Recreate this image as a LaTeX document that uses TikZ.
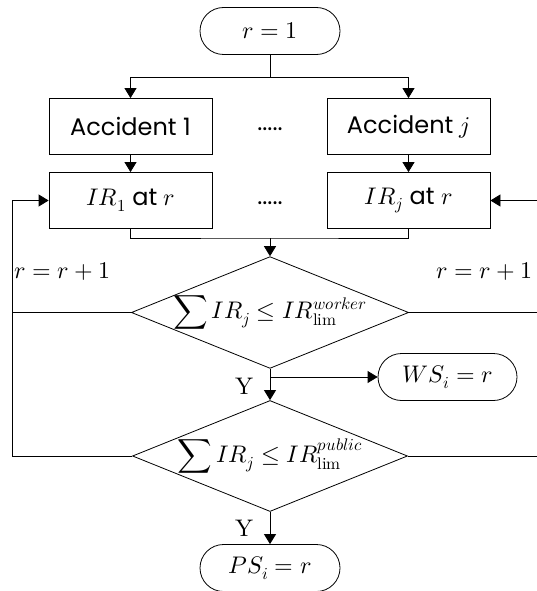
\documentclass[tikz,border=0pt]{standalone}
\usepackage{fontspec}
\usepackage{unicode-math}
\setmainfont{Poppins}
\setmathfont{Latin Modern Math}
\usetikzlibrary{shapes.geometric,shapes.misc,arrows.meta}

\begin{document}
\begin{tikzpicture}[x=1pt,y=-1pt,line width=0.8pt,
    arr/.style={-{Triangle[length=10pt,width=12pt]}},
    procbox/.style={draw,rectangle,minimum width=163pt,minimum height=56pt,inner sep=0pt},
    termbox/.style={draw,rounded rectangle,minimum width=140pt,minimum height=47pt,inner sep=0pt},
    decide/.style={draw,diamond,aspect=2.48,minimum width=275pt,minimum height=111pt,inner sep=0pt}]
  \tikzstyle{every node}+=[font=\fontsize{24}{28}\selectfont]
  \clip (0,0) rectangle (537,591);
  % nodes
  \node [termbox] (start) at (270,31) {$r=1$};
  \node [procbox] (acc1) at (130.5,126.5) {Accident 1};
  \node [procbox] (accj) at (408.5,126.5) {Accident $j$};
  \node (dots1) at (270,129) {.....};
  \node [procbox] (ir1) at (130.5,200.5) {$IR_1$ at $r$};
  \node [procbox] (irj) at (408.5,200.5) {$IR_j$ at $r$};
  \node (dots2) at (270,203) {.....};
  \node [decide] (dia1) at (270,312.5) {$\displaystyle\sum IR_j \leq IR_{\symup{lim}}^{worker}$};
  \node [termbox,minimum width=139pt] (ws) at (447.5,377) {$WS_i=r$};
  \node [decide] (dia2) at (270,456) {$\displaystyle\sum IR_j \leq IR_{\symup{lim}}^{public}$};
  \node [termbox] (ps) at (270,568) {$PS_i=r$};
  \node [anchor=west] (incL) at (11,272) {$r=r+1$};
  \node [anchor=east] (incR) at (536,272) {$r=r+1$};
  \node (y1) at (245,386) {$\symup{Y}$};
  \node (y2) at (245,528) {$\symup{Y}$};
  \coordinate (split) at (270,77);
  \coordinate (join) at (270,238);
  \coordinate (loopL) at (12,456);
  \coordinate (loopR) at (545,456);
  % connectors
  \draw (start) -- (split);
  \draw [arr] (split) -| (acc1);
  \draw [arr] (split) -| (accj);
  \draw [arr] (acc1) -- (ir1);
  \draw [arr] (accj) -- (irj);
  \draw (ir1) |- (join) -| (irj);
  \draw [arr] (join) -- (dia1);
  \draw [arr] (dia1) -- (dia2);
  \draw [arr] (dia1.south |- ws) -- (ws);
  \draw [arr] (dia2) -- (ps);
  \draw [arr] (dia2.west) -- (loopL) |- (ir1);
  \draw [arr] (dia2.east) -- (loopR) |- (irj);
  \draw (dia1.west) -- (dia1.west -| loopL);
  \draw (dia1.east) -- (dia1.east -| loopR);
\end{tikzpicture}
\end{document}
